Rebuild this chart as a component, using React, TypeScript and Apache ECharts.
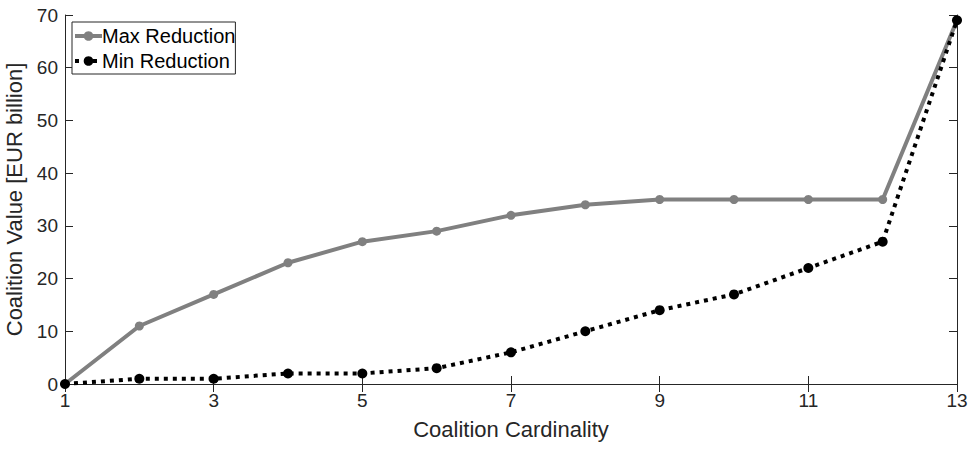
import React, { useEffect, useRef } from "react";
import * as echarts from "echarts";

const cardinality = [1, 2, 3, 4, 5, 6, 7, 8, 9, 10, 11, 12, 13];
const maxReduction = [0, 11, 17, 23, 27, 29, 32, 34, 35, 35, 35, 35, 69];
const minReduction = [0, 1, 1, 2, 2, 3, 6, 10, 14, 17, 22, 27, 69];
const seriesNames = ["Max Reduction", "Min Reduction"];

const FONT = "'Liberation Sans', Arial, Helvetica, sans-serif";
const AX = "#262626";

export default function App() {
  const ref = useRef<HTMLDivElement>(null);
  useEffect(() => {
    if (!ref.current) return;
    const chart = echarts.init(ref.current, undefined, { renderer: "svg" });
    const xCommon = {
      type: "value" as const,
      min: 1,
      max: 13,
      interval: 2,
      splitLine: { show: false },
      axisLine: { show: true, lineStyle: { color: AX, width: 1 } },
      axisTick: { show: true, inside: true, length: 8, lineStyle: { color: AX } },
    };
    const yCommon = {
      type: "value" as const,
      min: 0,
      max: 70,
      interval: 10,
      splitLine: { show: false },
      axisLine: { show: true, lineStyle: { color: AX, width: 1 } },
      axisTick: { show: true, inside: true, length: 8, lineStyle: { color: AX } },
    };
    chart.setOption({
      animation: false,
      backgroundColor: "#ffffff",
      textStyle: { fontFamily: FONT },
      grid: { left: 65, right: 14, top: 15, bottom: 65, outerBoundsMode: "none", containLabel: false },
      legend: {
        orient: "vertical",
        left: 72,
        top: 22,
        padding: [4, 0, 3, 1],
        itemGap: 5,
        itemWidth: 27,
        itemHeight: 12,
        backgroundColor: "#ffffff",
        borderColor: AX,
        borderWidth: 1,
        borderRadius: 0,
        lineStyle: { width: 4 },
        data: seriesNames,
        textStyle: { fontFamily: FONT, fontSize: 20, color: "#000", padding: [0, 0, 0, -5] },
      },
      xAxis: [
        {
          ...xCommon,
          position: "bottom",
          name: "Coalition Cardinality",
          nameLocation: "middle",
          nameGap: 34,
          nameTextStyle: { fontFamily: FONT, fontSize: 22, color: AX },
          axisLabel: { fontFamily: FONT, fontSize: 19, color: AX, margin: 7 },
        },
        {
          ...xCommon,
          position: "top",
          axisLabel: { show: false },
        },
      ],
      yAxis: [
        {
          ...yCommon,
          position: "left",
          name: "Coalition Value [EUR billion]",
          nameLocation: "middle",
          nameGap: 36,
          nameTextStyle: { fontFamily: FONT, fontSize: 22, color: AX },
          axisLabel: { fontFamily: FONT, fontSize: 19, color: AX, margin: 7 },
        },
        {
          ...yCommon,
          position: "right",
          axisLabel: { show: false },
        },
      ],
      series: [
        {
          name: seriesNames[0],
          type: "line",
          xAxisIndex: 0,
          yAxisIndex: 0,
          data: cardinality.map((c, i) => [c, maxReduction[i]]),
          symbol: "circle",
          symbolSize: 9,
          lineStyle: { color: "#808080", width: 4 },
          itemStyle: { color: "#808080" },
          z: 2,
        },
        {
          name: seriesNames[1],
          type: "line",
          xAxisIndex: 0,
          yAxisIndex: 0,
          data: cardinality.map((c, i) => [c, minReduction[i]]),
          symbol: "circle",
          symbolSize: 10,
          lineStyle: { color: "#000000", width: 4, type: [4, 5], cap: "butt" },
          itemStyle: { color: "#000000" },
          z: 3,
        },
      ],
    });
    return () => chart.dispose();
  }, []);
  return <div ref={ref} style={{ width: 971, height: 449, position: "absolute", left: 0, top: 0 }} />;
}
